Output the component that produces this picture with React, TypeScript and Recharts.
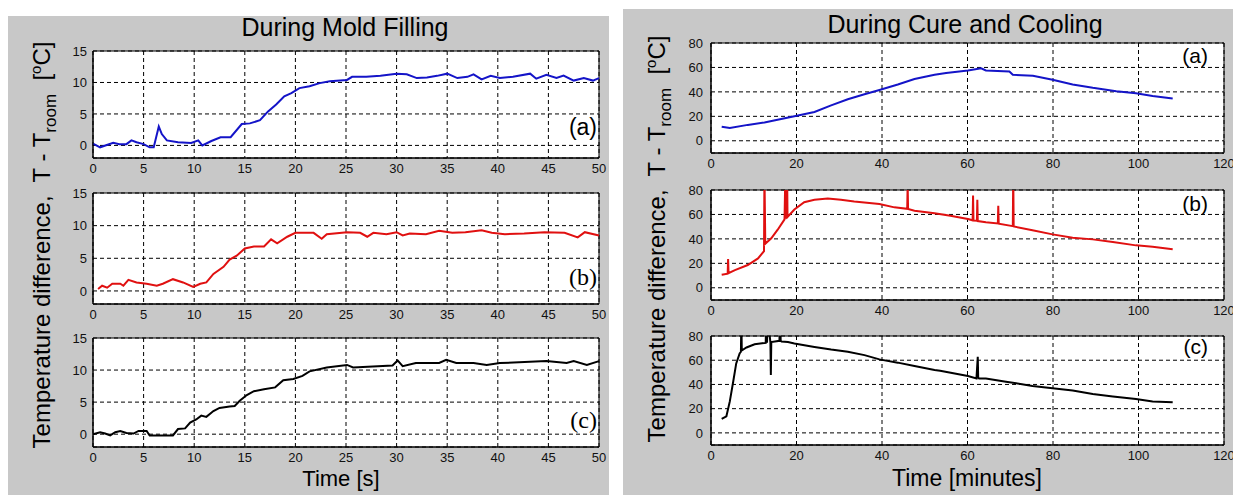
import { LineChart, Line, XAxis, YAxis, CartesianGrid, ReferenceArea } from 'recharts'

// During mold filling, time in seconds
const fillTimeA = [0, 0.7, 2, 2.6, 3.3, 3.8, 4.3, 5, 5.6, 6, 6.5, 6.8, 7.3, 8.4, 9.7, 10.4, 10.8, 11.7, 12.6, 13.6, 14.7, 15.5, 16.5, 17.3, 18.1, 18.9, 19.6, 20.4, 21.4, 22.4, 23.4, 25.1, 25.6, 27, 28.4, 30, 31, 32, 33, 34, 35, 36, 37, 37.6, 38.4, 39.3, 40.2, 41.5, 43.2, 43.8, 44.8, 45.8, 46.5, 47.5, 48.5, 49.4, 50]
const fillTempA = [0.3, -0.3, 0.4, 0.2, 0.2, 0.8, 0.5, 0.2, -0.3, -0.3, 3.0, 1.8, 0.8, 0.5, 0.4, 0.8, 0, 0.7, 1.3, 1.3, 3.4, 3.5, 4.0, 5.4, 6.5, 7.8, 8.3, 9.1, 9.4, 9.9, 10.2, 10.4, 10.9, 10.9, 11.05, 11.4, 11.3, 10.7, 10.8, 11.05, 11.4, 10.7, 10.9, 11.3, 10.5, 11.05, 10.7, 10.9, 11.4, 10.6, 11.2, 10.7, 11.1, 10.3, 10.7, 10.3, 10.7]

const fillTimeB = [0.5, 0.9, 1.4, 1.9, 2.7, 3, 3.5, 4.3, 5.3, 6.3, 6.9, 7.9, 8.9, 9.9, 10.6, 11.2, 11.9, 12.9, 13.5, 14.2, 15, 15.9, 16.9, 17.6, 18.2, 19.2, 20, 21.8, 22.6, 23.1, 25.1, 26.4, 27.1, 27.7, 29, 30, 30.6, 31.3, 32.9, 34.2, 35.5, 36.8, 38.4, 39.4, 40.7, 42.6, 44.6, 46.6, 47.9, 48.6, 50]
const fillTempB = [0.3, 0.8, 0.5, 1.1, 1.1, 0.8, 1.7, 1.3, 1.1, 0.8, 1.1, 1.8, 1.3, 0.6, 1.1, 1.3, 2.6, 3.7, 4.8, 5.4, 6.5, 6.8, 6.8, 7.9, 7.3, 8.3, 8.9, 8.9, 8.0, 8.7, 9.0, 8.9, 8.3, 8.9, 8.7, 9.0, 8.5, 8.8, 8.7, 9.2, 8.9, 9.0, 9.3, 8.9, 8.7, 8.8, 9.0, 8.9, 8.2, 9.0, 8.5]

const fillTimeC = [0, 0.7, 1.2, 1.7, 2.2, 2.7, 3.3, 4, 4.5, 5.3, 5.6, 6.6, 7.9, 8.4, 9.1, 9.6, 10.2, 10.7, 11.2, 11.9, 12.5, 13.5, 14, 14.5, 15.2, 15.9, 16.9, 18, 18.8, 19.8, 20.7, 21.4, 23.1, 25.1, 25.7, 29.6, 30.1, 30.6, 31.9, 34.2, 34.9, 35.9, 37.6, 38.9, 40.2, 42.1, 44.8, 46.8, 47.5, 48.8, 50]
const fillTempC = [0, 0.3, 0.1, -0.2, 0.3, 0.5, 0.2, 0.1, 0.5, 0.5, -0.2, -0.2, -0.2, 0.8, 0.9, 1.8, 2.3, 2.9, 2.7, 3.6, 4.1, 4.3, 4.4, 5.2, 6.1, 6.7, 7.0, 7.3, 8.4, 8.6, 9.1, 9.8, 10.4, 10.8, 10.4, 10.7, 11.5, 10.6, 11.1, 11.1, 11.6, 11.1, 11.1, 10.8, 11.1, 11.2, 11.4, 11.1, 11.4, 10.8, 11.4]

// During cure and cooling, time in minutes
const cureTimeA = [2.5, 4.4, 8.6, 12.5, 19.5, 24.2, 28.1, 32, 35.9, 39.4, 43.7, 47.6, 52.3, 55, 60.1, 63.2, 64.3, 69.8, 70.6, 75.3, 79.9, 84.6, 89.3, 94.8, 99.4, 103.3, 108]
const cureTempA = [11.5, 10.4, 13, 15, 20, 23.6, 29, 34, 38, 41.5, 46, 50.5, 54, 55.5, 57.5, 59.3, 57.5, 56.7, 54, 53.2, 50, 46, 43.3, 40.6, 38.8, 36.6, 34.5]

const cureTimeB = [2.5, 3.9, 4.0, 4.1, 5.6, 8.6, 11, 12.4, 12.5, 12.7, 14.1, 15.6, 17.2, 17.4, 17.5, 17.8, 17.9, 19.5, 21.8, 24.2, 27.3, 30.4, 33.5, 39.4, 42.9, 45.9, 46, 46.1, 47.6, 52.3, 56, 60.1, 61.2, 61.3, 61.4, 62.2, 62.3, 62.4, 64.3, 67.1, 67.2, 67.3, 70.6, 70.7, 70.8, 75.2, 79.9, 84.6, 89.3, 94, 99.4, 103.3, 108]
const cureTempB = [10.6, 11.5, 23.5, 12, 14.5, 18.6, 24, 30, 95, 36, 40.5, 47.5, 56, 95, 56.5, 95, 58, 64, 70, 72, 73, 72, 70.5, 68.5, 65.8, 64.6, 85, 64.4, 63, 61, 59, 56.3, 55.2, 75.4, 55, 54.8, 72, 54.6, 53.6, 52.6, 67, 52.4, 50.4, 95, 50.2, 47, 43.7, 41, 39.6, 37.4, 34.7, 33.6, 31.5]

const cureTimeC = [2.5, 3.6, 4.4, 5.2, 5.9, 6.7, 7.0, 7.1, 7.2, 8.3, 10.2, 12.8, 12.9, 13.1, 13.3, 13.9, 14.0, 14.1, 16, 16.2, 16.3, 16.5, 18, 19.5, 24.2, 28.1, 32, 35.9, 39.4, 43.7, 47.6, 52.3, 53.6, 60.1, 62.1, 62.4, 62.5, 62.7, 64.3, 69, 75.2, 79.9, 84.6, 89.3, 94, 99.4, 103.3, 108]
const cureTempC = [11.5, 13.7, 26, 42.4, 57.4, 65.6, 67, 95, 68, 70.5, 73.2, 74.3, 95, 74.5, 95, 74.5, 47.8, 75, 76, 95, 76, 75.5, 75, 73.8, 71, 68.8, 67, 64.2, 60.7, 58, 55.2, 52, 51.3, 47, 45, 62.8, 45.5, 45, 45, 42.3, 38.8, 36.9, 35, 32.2, 30.1, 27.9, 26, 25.2]

const fillXTicks = [0, 5, 10, 15, 20, 25, 30, 35, 40, 45, 50]
const fillYTicks = [0, 5, 10, 15]
const cureXTicks = [0, 20, 40, 60, 80, 100, 120]
const cureYTicks = [0, 20, 40, 60, 80]

const toRows = (t: number[], v: number[]) => t.map((x, i) => ({ t: x, v: v[i] }))

const font = 'Liberation Sans, Arial, sans-serif'
const tickStyle = { fill: '#111', fontSize: 13, fontFamily: font }

interface SubPlotProps {
  x: number
  y: number
  w: number
  h: number
  rows: { t: number; v: number }[]
  color: string
  xDomain: [number, number]
  xTicks: number[]
  yDomain: [number, number]
  yTicks: number[]
  yGap: number
  right: number
}

function SubPlot({ x, y, w, h, rows, color, xDomain, xTicks, yDomain, yTicks, yGap, right }: SubPlotProps) {
  const yw = 40
  const mt = 8
  const xh = 24
  return (
    <>
      <div style={{ position: 'absolute', left: x, top: y, width: w, height: h, background: '#fff' }} />
      <div style={{ position: 'absolute', left: x - yw, top: y - mt }}>
        <LineChart
          width={yw + w + right}
          height={mt + h + xh}
          data={rows}
          margin={{ top: mt, right, bottom: 0, left: 0 }}
        >
          <CartesianGrid stroke="#000" strokeWidth={1} strokeDasharray="4 3" />
          <XAxis
            type="number"
            dataKey="t"
            domain={xDomain}
            ticks={xTicks}
            interval={0}
            height={xh}
            axisLine={{ stroke: '#000' }}
            tickLine={false}
            tickSize={4}
            tickMargin={2}
            tick={tickStyle}
          />
          <YAxis
            type="number"
            domain={yDomain}
            ticks={yTicks}
            interval={0}
            width={yw}
            allowDataOverflow
            axisLine={{ stroke: '#000' }}
            tickLine={false}
            tickSize={yGap - 2}
            tickMargin={2}
            tick={tickStyle}
          />
          <ReferenceArea
            x1={xDomain[0]}
            x2={xDomain[1]}
            y1={yDomain[0]}
            y2={yDomain[1]}
            fill="none"
            stroke="#000"
            strokeWidth={1}
          />
          <Line
            type="linear"
            dataKey="v"
            stroke={color}
            strokeWidth={2}
            dot={false}
            isAnimationActive={false}
          />
        </LineChart>
      </div>
    </>
  )
}

function YLabel({ x, y }: { x: number; y: number }) {
  return (
    <text
      transform={`translate(${x},${y}) rotate(-90)`}
      textAnchor="middle"
      fontSize={24}
      fontFamily={font}
      fill="#000"
      style={{ whiteSpace: 'pre' }}
    >
      {'Temperature difference,  T - T'}
      <tspan dy={6} fontSize={17}>room</tspan>
      <tspan dy={-6}>{'  ['}</tspan>
      <tspan dy={-9} fontSize={15}>o</tspan>
      <tspan dy={9}>C]</tspan>
    </text>
  )
}

export default function App() {
  const fillX: [number, number] = [0, 50]
  const fillY: [number, number] = [-2, 15]
  const cureX: [number, number] = [0, 120]
  const cureY: [number, number] = [-10, 80]

  return (
    <div style={{ position: 'absolute', left: 0, top: 0, width: 1233, height: 495, background: '#fff', overflow: 'hidden' }}>
      <div style={{ position: 'absolute', left: 8, top: 16, width: 601, height: 479, background: '#c8c8c8' }} />
      <div style={{ position: 'absolute', left: 623, top: 9, width: 610, height: 486, background: '#c8c8c8' }} />

      <SubPlot x={93} y={51} w={506} h={107} rows={toRows(fillTimeA, fillTempA)} color="#1414c8"
        xDomain={fillX} xTicks={fillXTicks} yDomain={fillY} yTicks={fillYTicks} yGap={6} right={10} />
      <SubPlot x={93} y={193} w={506} h={111} rows={toRows(fillTimeB, fillTempB)} color="#e01010"
        xDomain={fillX} xTicks={fillXTicks} yDomain={fillY} yTicks={fillYTicks} yGap={6} right={10} />
      <SubPlot x={93} y={338} w={506} h={109} rows={toRows(fillTimeC, fillTempC)} color="#000"
        xDomain={fillX} xTicks={fillXTicks} yDomain={fillY} yTicks={fillYTicks} yGap={6} right={10} />

      <SubPlot x={711} y={43} w={513} h={110} rows={toRows(cureTimeA, cureTempA)} color="#1414c8"
        xDomain={cureX} xTicks={cureXTicks} yDomain={cureY} yTicks={cureYTicks} yGap={8} right={9} />
      <SubPlot x={711} y={190} w={513} h={110} rows={toRows(cureTimeB, cureTempB)} color="#e01010"
        xDomain={cureX} xTicks={cureXTicks} yDomain={cureY} yTicks={cureYTicks} yGap={8} right={9} />
      <SubPlot x={711} y={336} w={513} h={109} rows={toRows(cureTimeC, cureTempC)} color="#000"
        xDomain={cureX} xTicks={cureXTicks} yDomain={cureY} yTicks={cureYTicks} yGap={8} right={9} />

      <svg width={1233} height={495} style={{ position: 'absolute', left: 0, top: 0, pointerEvents: 'none' }}>
        <text x={345} y={36} textAnchor="middle" fontSize={25} fontFamily={font}>During Mold Filling</text>
        <text x={965} y={33} textAnchor="middle" fontSize={25} fontFamily={font}>During Cure and Cooling</text>
        <text x={341} y={486} textAnchor="middle" fontSize={22} fontFamily={font}>Time [s]</text>
        <text x={967} y={486} textAnchor="middle" fontSize={23} fontFamily={font}>Time [minutes]</text>
        <YLabel x={50} y={245} />
        <YLabel x={665} y={239} />
        <text x={597} y={135} textAnchor="end" fontSize={23} fontFamily={font}>(a)</text>
        <text x={597} y={285} textAnchor="end" fontSize={24} fontFamily="Liberation Serif, serif">(b)</text>
        <text x={597} y={428} textAnchor="end" fontSize={24} fontFamily="Liberation Serif, serif">(c)</text>
        <text x={1208} y={63} textAnchor="end" fontSize={21} fontFamily={font}>(a)</text>
        <text x={1208} y={211} textAnchor="end" fontSize={21} fontFamily={font}>(b)</text>
        <text x={1208} y={354} textAnchor="end" fontSize={21} fontFamily={font}>(c)</text>
      </svg>
    </div>
  )
}
